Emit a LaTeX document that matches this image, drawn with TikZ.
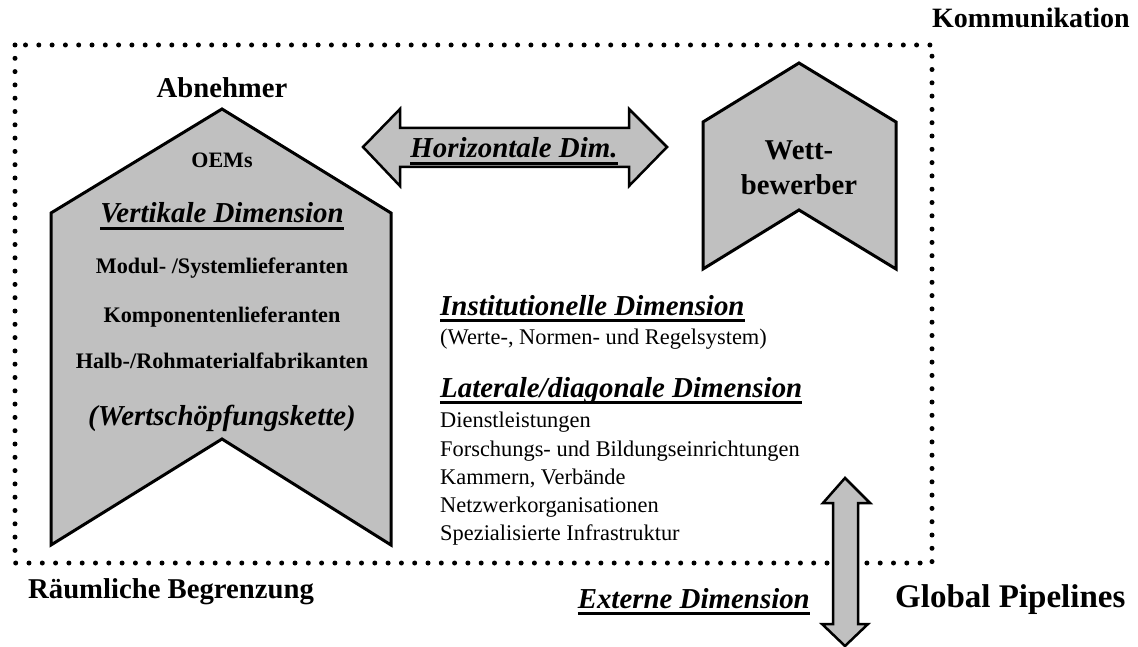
\documentclass[tikz,border=0pt]{standalone}
\usepackage{fontspec}
\setmainfont{Liberation Serif}
\definecolor{fillgray}{HTML}{C0C0C0}
\newcommand\ulx[1]{\begingroup\setbox0=\hbox{#1}\rlap{\rule[-7pt]{\wd0}{3pt}}\box0\endgroup}
\tikzset{
  big/.style={inner sep=0pt, font=\bfseries\fontsize{28.7}{34}\selectfont},
  bigit/.style={inner sep=0pt, font=\bfseries\itshape\fontsize{28.9}{34}\selectfont},
  mid/.style={inner sep=0pt, font=\bfseries\fontsize{22.2}{26}\selectfont},
  reg/.style={inner sep=0pt, anchor=base west, font=\fontsize{22.4}{26}\selectfont},
  chev/.style={fill=fillgray, draw=black, line width=3pt, line join=miter},
  dblarrow/.style={fill=fillgray, draw=black, line width=2.5pt, line join=miter},
  border/.style={line width=5pt, dash pattern=on 0pt off 13.3pt, line cap=round}
}
\begin{document}
\begin{tikzpicture}[x=1pt,y=-1pt]
\useasboundingbox (0,0) rectangle (1138,647);
% region boundary
\draw[border] (15,45) rectangle (932,563);
% Abnehmer chevron
\draw[chev] (51,213) -- (222,109) -- (391,213) -- (391,545) -- (222,439) -- (51,545) -- cycle;
% Wettbewerber chevron
\draw[chev] (703,122) -- (799,63) -- (896,122) -- (896,269) -- (799,210) -- (703,269) -- cycle;
% horizontal double arrow
\draw[dblarrow] (363,147) -- (400,109) -- (400,128) -- (629,128) -- (629,109) -- (667,147)
  -- (629,186) -- (629,167) -- (400,167) -- (400,186) -- cycle;
% vertical double arrow
\draw[dblarrow] (845,478) -- (870,503) -- (858,503) -- (858,624) -- (868,624) -- (845,646)
  -- (822,624) -- (833,624) -- (833,503) -- (823,503) -- cycle;
% texts
\node[big, anchor=base] (abn) at (222,98) {Abnehmer};
\node[inner sep=0pt, anchor=base, font=\bfseries\fontsize{22}{26}\selectfont] (oem) at (222,168) {OEMs};
\node[bigit, anchor=base] (vert) at (222,223) {\ulx{Vertikale Dimension}};
\node[mid, anchor=base] (modul) at (222,273) {Modul- /Systemlieferanten};
\node[mid, anchor=base] (komp) at (222,322) {Komponentenlieferanten};
\node[mid, anchor=base] (halb) at (222,368) {Halb-/Rohmaterialfabrikanten};
\node[bigit, anchor=base] (wsk) at (222,425) {(Wertschöpfungskette)};
\node[bigit, anchor=base] (hor) at (514,158) {\ulx{Horizontale Dim.}};
\node[big, anchor=base] (wett) at (799,160) {Wett-};
\node[big, anchor=base] (bew) at (799,195) {bewerber};
\node[bigit, anchor=base west] (inst) at (440,315) {\ulx{Institutionelle Dimension}};
\node[reg] (werte) at (440,344) {(Werte-, Normen- und Regelsystem)};
\node[bigit, anchor=base west] (lat) at (440,397) {\ulx{Laterale/diagonale Dimension}};
\node[reg] (l1) at (440,427) {Dienstleistungen};
\node[reg] (l2) at (440,456) {Forschungs- und Bildungseinrichtungen};
\node[reg] (l3) at (440,484) {Kammern, Verbände};
\node[reg] (l4) at (440,512) {Netzwerkorganisationen};
\node[reg] (l5) at (440,540) {Spezialisierte Infrastruktur};
\node[big, anchor=base west] (raum) at (28,598) {Räumliche Begrenzung};
\node[bigit, anchor=base east] (ext) at (810,608) {\ulx{Externe Dimension}};
\node[inner sep=0pt, font=\bfseries\fontsize{33}{38}\selectfont, anchor=base west] (glob) at (895,607) {Global Pipelines};
\node[inner sep=0pt, font=\bfseries\fontsize{28}{33}\selectfont, anchor=base west] (komm) at (932,28) {Kommunikation};
\end{tikzpicture}
\end{document}
